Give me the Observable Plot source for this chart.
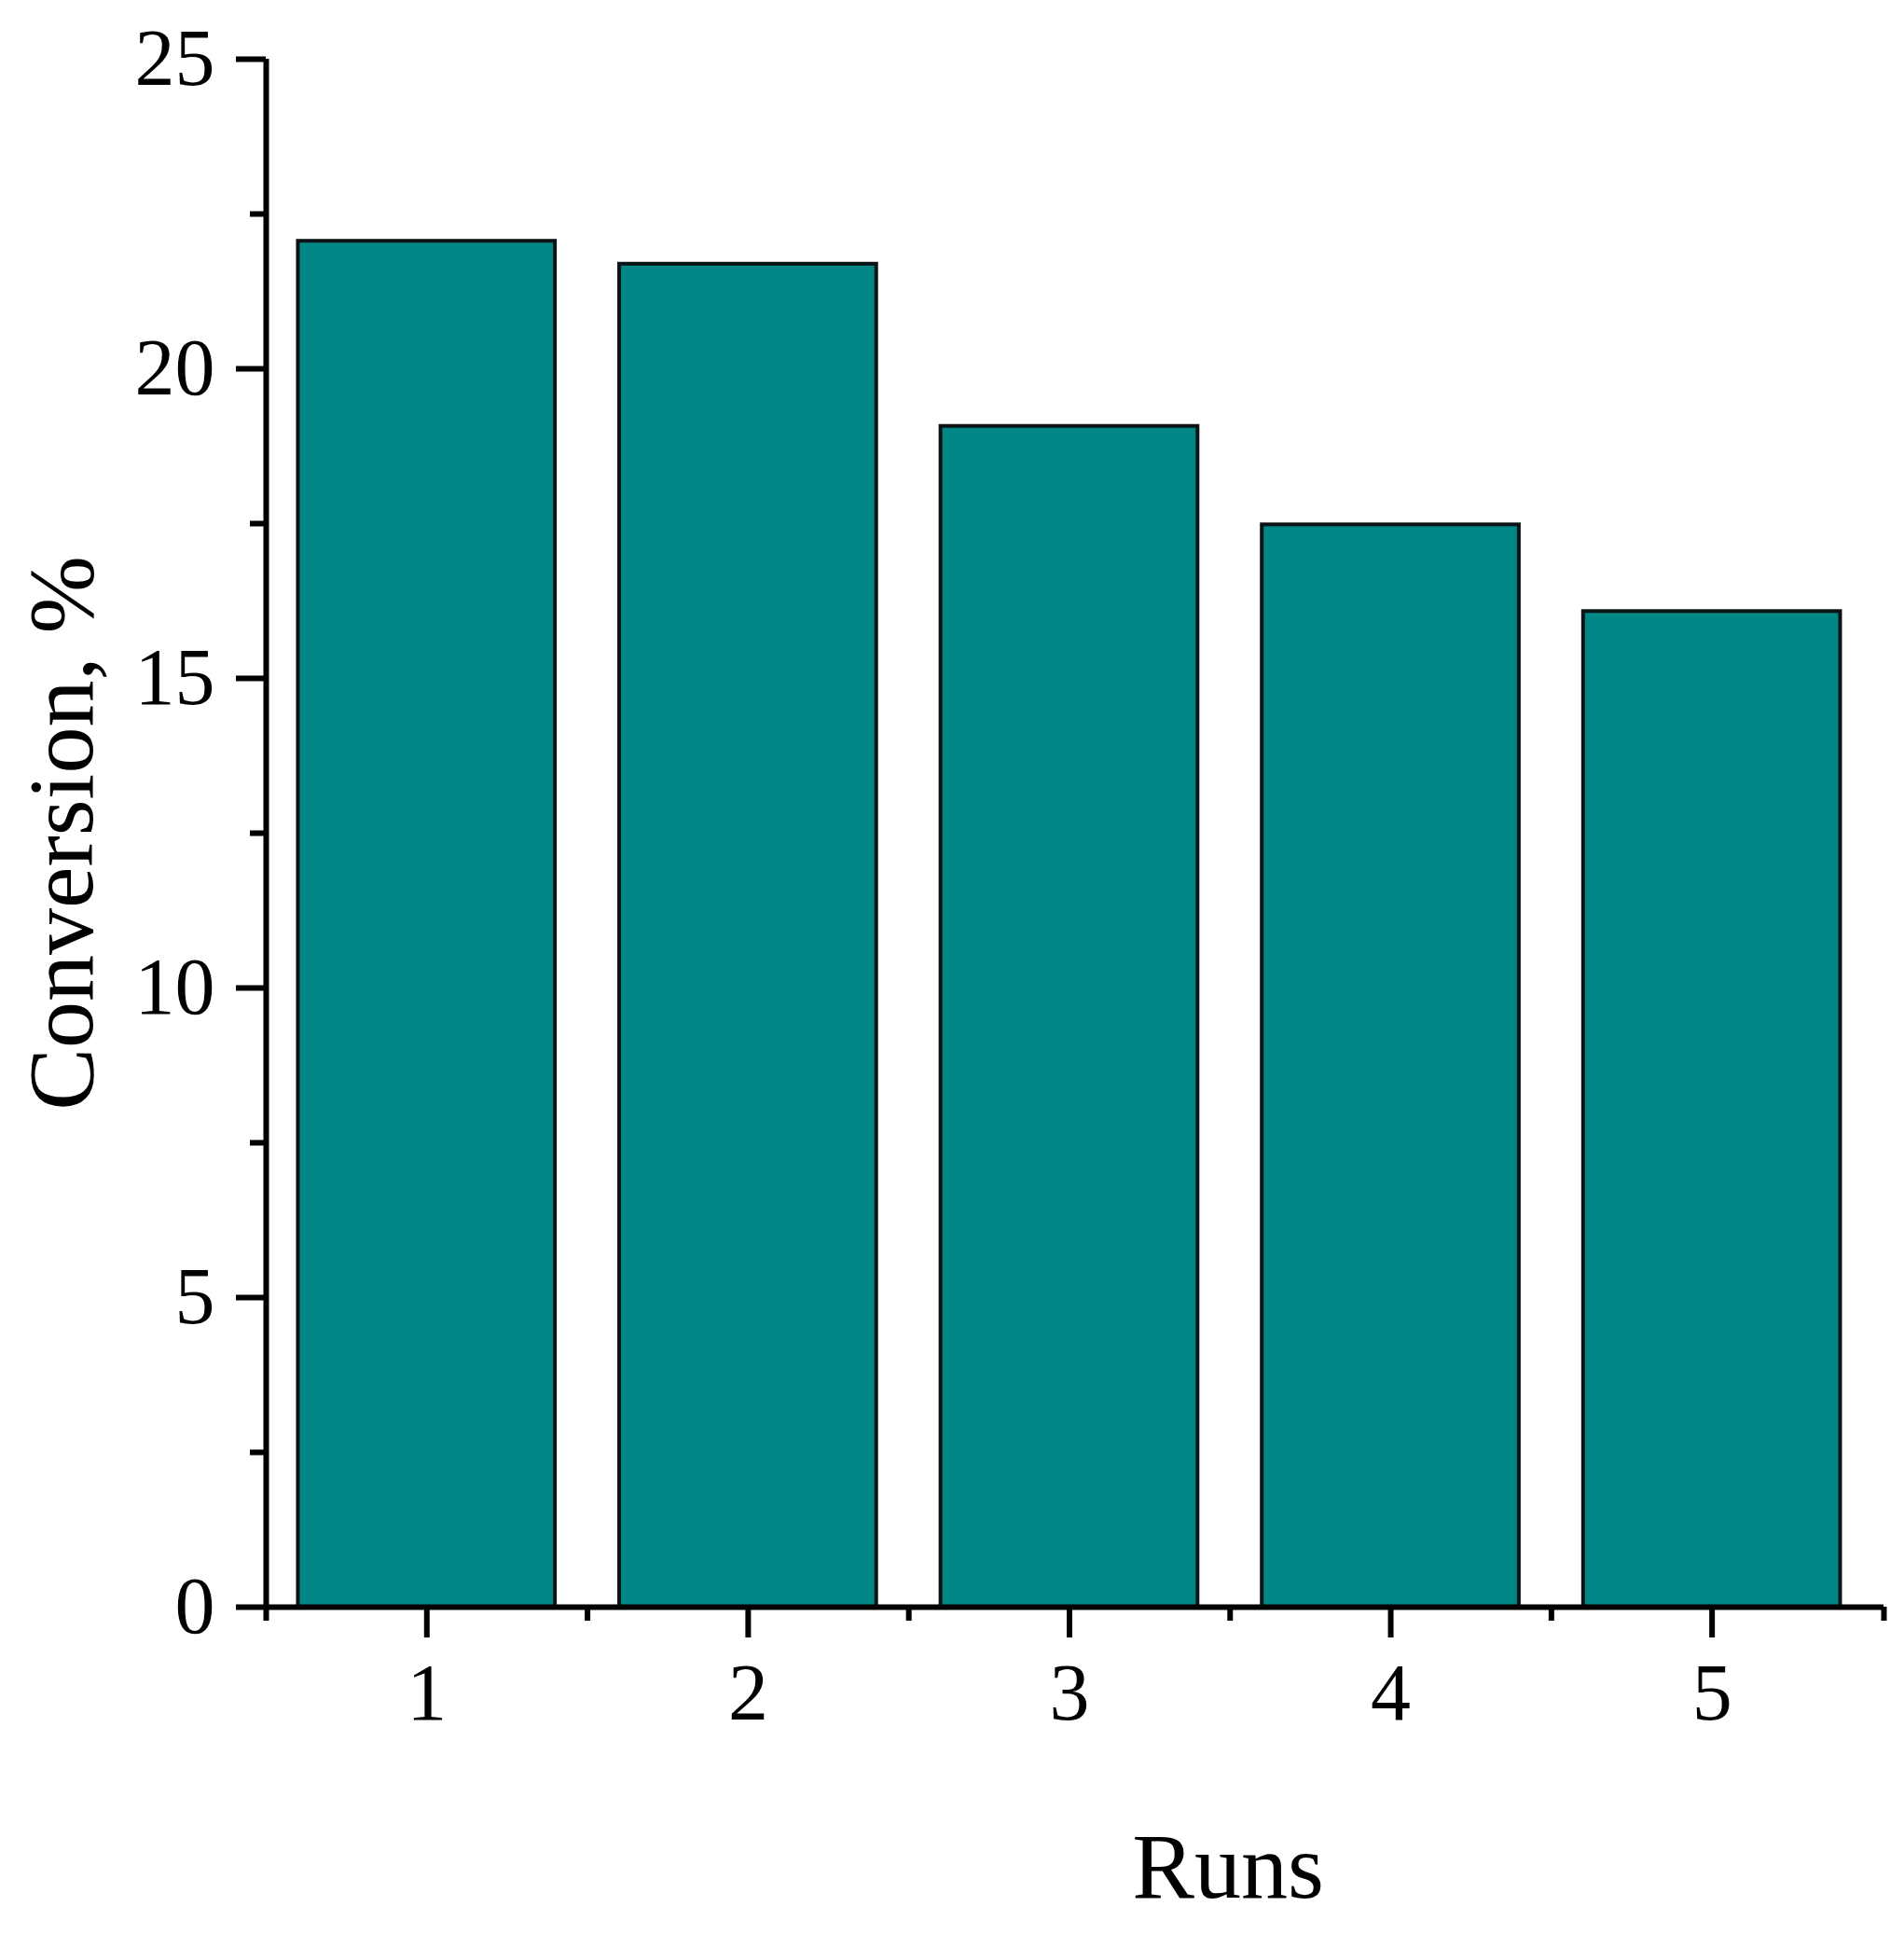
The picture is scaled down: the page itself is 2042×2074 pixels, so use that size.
<!DOCTYPE html>
<html><head><meta charset="utf-8">
<script src="https://cdn.jsdelivr.net/npm/d3@7"></script>
<script src="https://cdn.jsdelivr.net/npm/@observablehq/plot@0.6"></script>
<style>body{margin:0;background:#fff}</style>
</head><body><div id="chart"></div>
<script>
const runs = [1, 2, 3, 4, 5];
const conversion = [22.06, 21.69, 19.07, 17.48, 16.08];
const yMajorTicks = [0, 5, 10, 15, 20, 25];
const yMinorTicks = [2.5, 7.5, 12.5, 17.5, 22.5];
const xMajorTicks = [1, 2, 3, 4, 5];
const xMinorTicks = [0.5, 1.5, 2.5, 3.5, 4.5, 5.535];
const xLabel = "Runs";
const yLabel = "Conversion, %";

const data = runs.map((r, i) => ({run: r, value: conversion[i]}));
const barHalf = 0.4;
const font = "'Liberation Serif', 'Times New Roman', serif";

const chart = Plot.plot({
  width: 2042, height: 2074,
  marginLeft: 285, marginRight: 22, marginTop: 63, marginBottom: 351,
  style: {fontFamily: font, background: "#fff", color: "#000"},
  x: {type: "linear", domain: [0.5, 5.535], axis: null},
  y: {domain: [0, 25], axis: null},
  marks: [
    Plot.rectY(data, {x1: d => d.run - barHalf, x2: d => d.run + barHalf, y: "value", fill: "#018786", stroke: "#0b1414", strokeWidth: 4}),
    Plot.axisY(yMajorTicks, {tickSize: 32, strokeWidth: 6, tickPadding: 23, fontSize: 86, label: null, tickFormat: d => String(d)}),
    Plot.axisY(yMinorTicks, {tickSize: 17, strokeWidth: 6, fill: "none", label: null}),
    Plot.axisX(xMajorTicks, {tickSize: 33, strokeWidth: 6, tickPadding: 26, fontSize: 86, label: null, tickFormat: d => String(d)}),
    Plot.axisX(xMinorTicks, {tickSize: 15, strokeWidth: 6, fill: "none", label: null}),
    Plot.ruleX([0.5], {y1: 0, y2: 25, strokeWidth: 6}),
    Plot.ruleY([0], {x1: 0.5, x2: 5.535, strokeWidth: 6}),
    Plot.text([yLabel], {frameAnchor: "left", rotate: -90, dx: -219, fontSize: 100, lineAnchor: "middle", textAnchor: "middle"}),
    Plot.text([xLabel], {frameAnchor: "bottom", dx: 164, dy: 279, fontSize: 100, lineAnchor: "middle"})
  ]
});
document.getElementById("chart").appendChild(chart);
</script>
</body></html>
